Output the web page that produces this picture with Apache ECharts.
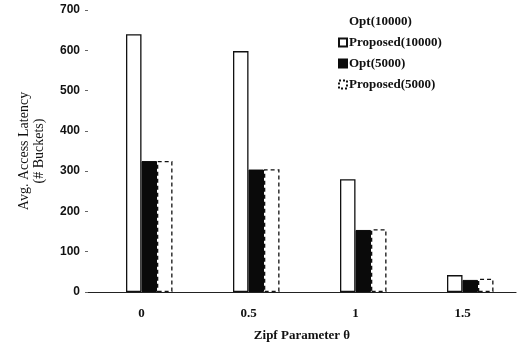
<!DOCTYPE html>
<html>
<head>
<meta charset="utf-8">
<script src="https://cdn.jsdelivr.net/npm/echarts@6/dist/echarts.min.js"></script>
<style>
  html, body { margin: 0; padding: 0; background: #fff; }
  #chart { width: 523px; height: 349px; }
</style>
</head>
<body>
<div id="chart"></div>
<script>
// Zipf parameter values on the x axis
const categories = ['0', '0.5', '1', '1.5'];
const seriesNames = ['Opt(10000)', 'Proposed(10000)', 'Opt(5000)', 'Proposed(5000)'];
// Average access latency, in buckets
const opt10000 = [636, 594, 278, 40];
const proposed10000 = [640, 598, 280, 42];
const opt5000 = [325, 304, 154, 30];
const proposed5000 = [325, 305, 156, 33];
const yTicks = [0, 100, 200, 300, 400, 500, 600, 700];

const serif = '"Liberation Serif", "DejaVu Serif", serif';
const sans = '"Liberation Sans", Arial, sans-serif';
const dash = [4, 3];

const chart = echarts.init(document.getElementById('chart'), null, { renderer: 'canvas' });

function bar(name, data, style) {
  return {
    name: name,
    type: 'bar',
    data: data,
    barWidth: 15.5,
    barGap: '0%',
    itemStyle: style,
    emphasis: { disabled: true },
    animation: false
  };
}

chart.setOption({
  animation: false,
  backgroundColor: '#ffffff',
  grid: { left: 88, right: 7, top: 10, bottom: 57, containLabel: false },
  legend: {
    orient: 'vertical',
    left: 333,
    top: 10,
    itemWidth: 8,
    itemHeight: 8,
    itemGap: 8,
    icon: 'rect',
    data: [
      { name: seriesNames[0] },
      { name: seriesNames[1] },
      { name: seriesNames[2] },
      { name: seriesNames[3], itemStyle: { borderType: [2, 2] } }
    ],
    textStyle: { fontFamily: serif, fontWeight: 'bold', fontSize: 13, color: '#111', padding: [0, 0, 0, -3] }
  },
  xAxis: {
    type: 'category',
    data: categories,
    name: 'Zipf Parameter \u03b8',
    nameLocation: 'middle',
    nameGap: 37,
    nameTextStyle: { fontFamily: serif, fontWeight: 'bold', fontSize: 13, color: '#111' },
    axisLine: { show: true, lineStyle: { color: '#222', width: 1.2 } },
    axisTick: { show: false },
    axisLabel: { fontFamily: serif, fontWeight: 'bold', fontSize: 13, color: '#111', margin: 15 }
  },
  yAxis: {
    type: 'value',
    min: 0,
    max: yTicks[yTicks.length - 1],
    interval: 100,
    name: 'Avg. Access Latency\n(# Buckets)',
    nameLocation: 'middle',
    nameGap: 41,
    nameRotate: 90,
    nameTextStyle: { fontFamily: serif, fontSize: 14, color: '#111', lineHeight: 15 },
    axisLine: { show: false },
    axisTick: { show: true, length: 3, inside: false, lineStyle: { color: '#666' } },
    splitLine: { show: false },
    axisLabel: { fontFamily: sans, fontWeight: 'bold', fontSize: 12, color: '#111', margin: 8 }
  },
  series: [
    // the Opt(10000) bars are drawn without fill or outline
    bar(seriesNames[0], opt10000, { color: 'rgba(255,255,255,0)', borderWidth: 0 }),
    bar(seriesNames[1], proposed10000, { color: '#ffffff', borderColor: '#111', borderWidth: 1.3 }),
    bar(seriesNames[2], opt5000, { color: '#0a0a0a', borderColor: '#0a0a0a', borderWidth: 1 }),
    bar(seriesNames[3], proposed5000, { color: '#ffffff', borderColor: '#111', borderWidth: 1.3, borderType: dash })
  ]
});
</script>
</body>
</html>
